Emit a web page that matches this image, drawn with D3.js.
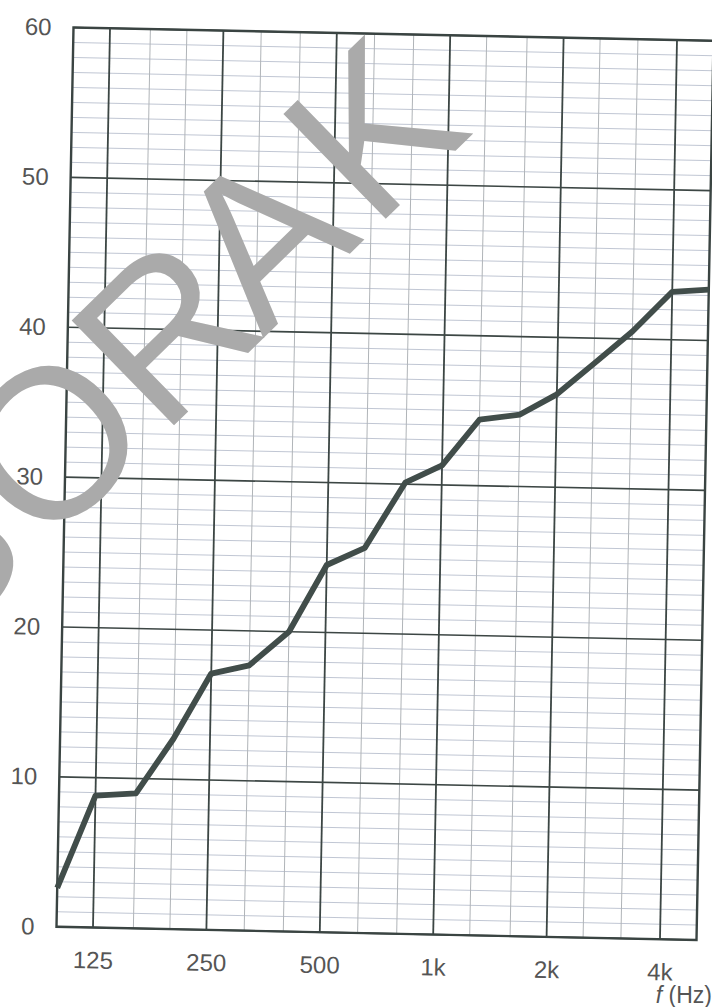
<!DOCTYPE html>
<html><head><meta charset="utf-8">
<script src="https://cdn.jsdelivr.net/npm/d3@7"></script>
<style>html,body{margin:0;padding:0;background:#fff;overflow:hidden}</style>
</head><body>
<svg id="chart" width="712" height="1007"></svg>
<script>
// ---- data ----
const bandFreqs = [100,125,160,200,250,315,400,500,630,800,1000,1250,1600,2000,2500,3150,4000,5000];
const levels    = [2.6, 8.8, 9.0, 12.7, 17.1, 17.7, 20.0, 24.5, 25.7, 30.1, 31.3, 34.4, 34.8, 36.2, 38.3, 40.5, 43.2, 43.4];
const xTickValues = [125,250,500,1000,2000,4000];
const xTickLabels = ["125","250","500","1k","2k","4k"];
const yTickValues = [0,10,20,30,40,50,60];
const xTitleItalic = "f";
const xTitleRest = " (Hz)";
const watermarkText = "SORAK";

// ---- layout ----
const W = 640, H = 900;
const x = d3.scaleLog().domain([100,5000]).range([0,W]);
const y = d3.scaleLinear().domain([0,60]).range([H,0]);

const svg = d3.select("#chart");
svg.append("rect").attr("width",712).attr("height",1007).attr("fill","#fff");

// scanned sheet is slightly skewed
const g = svg.append("g").attr("transform","matrix(1,0.0207,-0.0189,0.99917,73.5,27.5)");

// minor horizontal lines (1 unit)
g.append("g").selectAll("line")
  .data(d3.range(0,61).filter(v => v % 10 !== 0))
  .join("line")
  .attr("x1",0).attr("x2",W)
  .attr("y1",d=>y(d)).attr("y2",d=>y(d))
  .attr("stroke","#b9c0ce").attr("stroke-width",0.9);

// minor vertical lines (1/3 octave)
g.append("g").selectAll("line")
  .data(bandFreqs.filter(f => !xTickValues.includes(f) && f !== 100 && f !== 5000))
  .join("line")
  .attr("x1",d=>x(d)).attr("x2",d=>x(d))
  .attr("y1",0).attr("y2",H)
  .attr("stroke","#b0b4b8").attr("stroke-width",1);

// major horizontal
g.append("g").selectAll("line")
  .data(yTickValues)
  .join("line")
  .attr("x1",0).attr("x2",W)
  .attr("y1",d=>y(d)).attr("y2",d=>y(d))
  .attr("stroke","#3c4644").attr("stroke-width",1.6);

// major vertical
g.append("g").selectAll("line")
  .data(xTickValues)
  .join("line")
  .attr("x1",d=>x(d)).attr("x2",d=>x(d))
  .attr("y1",0).attr("y2",H)
  .attr("stroke","#3c4644").attr("stroke-width",1.8);

// frame
g.append("rect").attr("x",0).attr("y",0).attr("width",W).attr("height",H)
  .attr("fill","none").attr("stroke","#3a4442").attr("stroke-width",2.4);

// curve
const line = d3.line().x((d,i)=>x(bandFreqs[i])).y(d=>y(d));
g.append("path").datum(levels)
  .attr("d",line).attr("fill","none")
  .attr("stroke","#414d4a").attr("stroke-width",5.8)
  .attr("stroke-linejoin","round").attr("stroke-linecap","butt");

// axes (labels only)
const yAxis = g.append("g").call(d3.axisLeft(y).tickValues(yTickValues).tickSize(0).tickPadding(22));
yAxis.select(".domain").remove();
yAxis.selectAll("text").attr("font-family","Liberation Sans, Arial, sans-serif").attr("font-size",24).attr("fill","#555");

const xAxis = g.append("g").attr("transform",`translate(0,${H})`)
  .call(d3.axisBottom(x).tickValues(xTickValues).tickFormat((d,i)=>xTickLabels[i]).tickSize(0).tickPadding(24));
xAxis.select(".domain").remove();
xAxis.selectAll("text").attr("font-family","Liberation Sans, Arial, sans-serif").attr("font-size",24).attr("fill","#555");

// axis title
const t = svg.append("text").attr("x",712).attr("y",1003).attr("text-anchor","end")
  .attr("font-family","Liberation Sans, Arial, sans-serif").attr("font-size",23).attr("fill","#555");
t.append("tspan").attr("font-style","italic").text(xTitleItalic);
t.append("tspan").text(xTitleRest);

// watermark
svg.append("text").attr("transform","translate(-58.8,652.5) rotate(-44.3)")
  .attr("font-family","Liberation Sans, Arial, sans-serif").attr("font-size",213)
  .attr("dx","-8 8 0 -12 12")
  .attr("fill","#aaaaaa").text(watermarkText);
</script>
</body></html>
